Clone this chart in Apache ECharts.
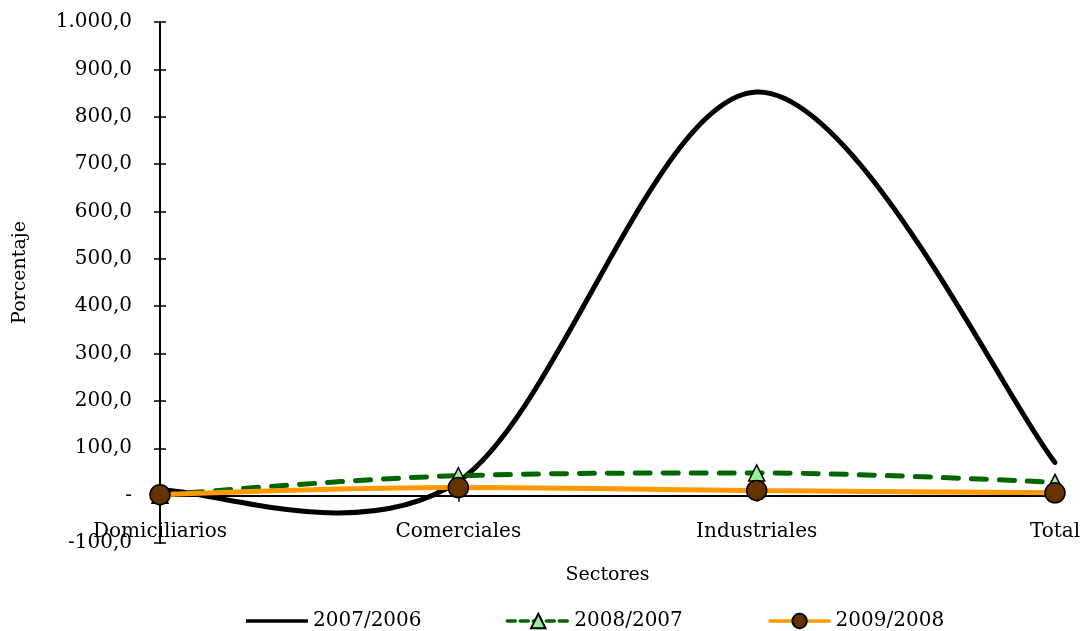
<!DOCTYPE html>
<html><head><meta charset="utf-8">
<script src="https://cdn.jsdelivr.net/npm/echarts@6/dist/echarts.min.js"></script>
<style>html,body{margin:0;padding:0;background:#fff}#c{width:1083px;height:631px}</style>
</head><body><div id="c"></div>
<script>
const categories = ['Domiciliarios', 'Comerciales', 'Industriales', 'Total'];
const s2007 = [12, 30, 852, 70];
const s2008 = [1, 42, 48, 28];
const s2009 = [2, 17, 11, 6];
const yMin = -100, yMax = 1000, yStep = 100;

const F = 'DejaVu Serif';
function fmt(v) {
  if (v === 0) return '-';
  const neg = v < 0; let a = Math.abs(v);
  let s = a.toFixed(1).split('.');
  let ip = s[0].replace(/\B(?=(\d{3})+(?!\d))/g, '.');
  return (neg ? '-' : '') + ip + ',' + s[1];
}
// Excel-style spline (Catmull-Rom bezier, tension 1/6) through library coords
function splinePath(api, vals) {
  const p = vals.map((v, i) => api.coord([i, v]));
  const n = p.length;
  let d = 'M' + p[0][0] + ',' + p[0][1];
  for (let i = 0; i < n - 1; i++) {
    const p0 = p[Math.max(i - 1, 0)], p1 = p[i], p2 = p[i + 1], p3 = p[Math.min(i + 2, n - 1)];
    const c1x = p1[0] + (p2[0] - p0[0]) / 6, c1y = p1[1] + (p2[1] - p0[1]) / 6;
    const c2x = p2[0] - (p3[0] - p1[0]) / 6, c2y = p2[1] - (p3[1] - p1[1]) / 6;
    d += 'C' + c1x + ',' + c1y + ',' + c2x + ',' + c2y + ',' + p2[0] + ',' + p2[1];
  }
  return d;
}
const zeroOffset = -(521 * (0 - yMin) / (yMax - yMin));
const chart = echarts.init(document.getElementById('c'));
chart.setOption({
  animation: false,
  grid: { left: 160, right: 28, top: 22, bottom: 88, outerBoundsMode: 'none', containLabel: false },
  legend: {
    bottom: -5, left: 241, itemWidth: 62, itemHeight: 18, itemGap: 84,
    textStyle: { fontFamily: F, fontSize: 20, color: '#000' },
    data: [
      { name: '2007/2006', icon: 'path://M0,0H62V3.5H0Z', itemStyle: { color: '#000' } },
      { name: '2008/2007', lineStyle: { width: 3.5, type: [8, 5] } },
      { name: '2009/2008', lineStyle: { width: 3.5 } }
    ]
  },
  xAxis: [{
    type: 'category', data: categories, boundaryGap: false, offset: zeroOffset,
    name: 'Sectores', nameLocation: 'middle', nameGap: 70,
    nameTextStyle: { fontFamily: F, fontSize: 19, color: '#000' },
    axisLine: { show: false, onZero: false },
    axisTick: { show: false },
    axisLabel: { fontFamily: F, fontSize: 20, color: '#000', margin: 26 }
  }, {
    type: 'category', data: categories, boundaryGap: false, position: 'bottom',
    axisLine: { show: true, onZero: true, lineStyle: { color: '#000', width: 2 } },
    axisTick: { show: true, length: 6, lineStyle: { color: '#000', width: 1.5 } },
    axisLabel: { show: false }
  }, {
    type: 'category', data: categories, boundaryGap: false, position: 'bottom',
    axisLine: { show: false, onZero: true },
    axisTick: { show: true, inside: true, length: 6, lineStyle: { color: '#000', width: 1.5 } },
    axisLabel: { show: false }
  }],
  yAxis: [{
    type: 'value', min: yMin, max: yMax, interval: yStep,
    name: 'Porcentaje', nameLocation: 'middle', nameGap: 130,
    nameTextStyle: { fontFamily: F, fontSize: 19, color: '#000', padding: [0, 0, 0, 20] },
    axisLine: { show: true, onZero: false, lineStyle: { color: '#000', width: 2 } },
    axisTick: { show: true, length: 6, lineStyle: { color: '#000', width: 1.5 } },
    axisLabel: { fontFamily: F, fontSize: 20, color: '#000', margin: 28, formatter: fmt },
    splitLine: { show: false }
  }, {
    type: 'value', min: yMin, max: yMax, interval: yStep, position: 'left',
    axisLine: { show: false, onZero: false },
    axisTick: { show: true, inside: true, length: 6, lineStyle: { color: '#000', width: 1.5 } },
    axisLabel: { show: false }, splitLine: { show: false }
  }],
  series: [{
    name: '2007/2006', type: 'custom', clip: false, z: 2,
    data: s2007.map((v, i) => [i, v]),
    encode: { x: 0, y: 1 },
    itemStyle: { color: '#000' },
    renderItem: function (params, api) {
      if (params.dataIndex !== 0) return;
      return {
        type: 'path', shape: { pathData: splinePath(api, s2007) },
        style: { fill: 'none', stroke: '#000', lineWidth: 5, lineCap: 'round', lineJoin: 'round' }
      };
    }
  }, {
    name: '2008/2007', type: 'line', data: s2008, smooth: 0.35, symbol: 'triangle', symbolSize: [16, 16],
    lineStyle: { color: '#006600', width: 5, type: [15, 13], cap: 'round' },
    itemStyle: { color: '#99EE99', borderColor: '#000', borderWidth: 1.5 }, z: 3
  }, {
    name: '2009/2008', type: 'line', data: s2009, smooth: 0.35, symbol: 'circle', symbolSize: 20,
    lineStyle: { color: '#FF9900', width: 5 },
    itemStyle: { color: '#663300', borderColor: '#000', borderWidth: 1.5 }, z: 4
  }]
});
</script></body></html>
